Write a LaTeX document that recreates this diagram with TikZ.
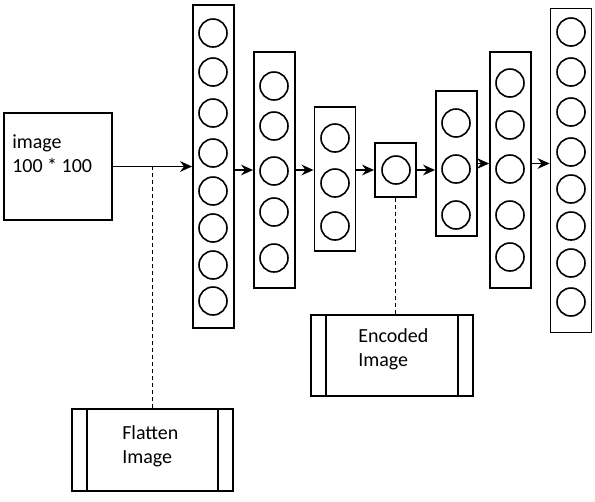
\documentclass[tikz,border=0pt]{standalone}
\usepackage{fontspec}
\setmainfont{Carlito}
\usetikzlibrary{arrows.meta, positioning}
\tikzset{
  layer/.style={rectangle,draw,line width=1.4pt,minimum width=30.75pt,inner sep=0pt},
  neuron/.style={circle,draw,line width=1.2pt,minimum size=21pt,inner sep=0pt},
  inbox/.style={rectangle,draw,line width=1.4pt,minimum width=81pt,minimum height=80.25pt,inner sep=0pt},
  procbox/.style={rectangle,draw,line width=1.4pt,minimum width=121pt,minimum height=61pt,inner sep=0pt},
  txt/.style={align=left,inner sep=0pt,font=\fontsize{15pt}{18pt}\selectfont},
  line/.style={-{Stealth[length=9pt,width=8pt,inset=3pt]},line width=1.3pt},
  link/.style={dash pattern=on 3pt off 2.25pt,line width=1.3pt}
}

\begin{document}
\begin{tikzpicture}[x=0.75pt,y=-0.75pt]
\useasboundingbox (0,0) rectangle (595,501);

% input image
\node[inbox] (img) at (58,166.5) {};
\node[txt,anchor=base west] (imgtext) at (12,172) {image\\100 * 100};

% layers of the autoencoder
\foreach \name/\x/\y/\h in {l1/213.5/166.5/242.25, l2/274.5/170/177, l3/335/179/108,
    bn/395.5/170/40.5, l5/456.5/163.5/108.75, l6/510.5/170/177, l7/571/170.5/243}
  \node[layer,minimum height=\h pt] (\name) at (\x,\y) {};

% neurons
\foreach \y [count=\i] in {33,72,113,153,191,228,265,301}
  \node[neuron] (a\i) at (213,\y) {};
\foreach \y [count=\i] in {86,126,171,212,258}
  \node[neuron] (b\i) at (274,\y) {};
\foreach \y [count=\i] in {138,183,226}
  \node[neuron] (c\i) at (335,\y) {};
\node[neuron] (d1) at (396,170) {};
\foreach \y [count=\i] in {123,169,215}
  \node[neuron] (e\i) at (456,\y) {};
\foreach \y [count=\i] in {83,125,169,215,257}
  \node[neuron] (f\i) at (510,\y) {};
\foreach \y [count=\i] in {32,72,112,152,189,226,263,302}
  \node[neuron] (g\i) at (571,\y) {};

% flatten and encoded boxes
\node[procbox] (flat) at (152.5,450) {};
\node[txt,anchor=base west] (flattext) at (122,463) {Flatten\\Image};
\node[procbox] (code) at (392,355.5) {};
\node[txt,anchor=base west] (codetext) at (358,366) {Encoded\\Image};
\foreach \b in {flat,code} {
  \draw[line width=1.4pt] ([xshift=12pt]\b.north west) -- ([xshift=12pt]\b.south west);
  \draw[line width=1.4pt] ([xshift=-12pt]\b.north east) -- ([xshift=-12pt]\b.south east);
}

% connections
\draw[link] (flat.north) -- (flat.north |- img.east);
\draw[link] (bn.south) -- (bn.south |- code.north);
\draw[line] (img) -- (l1);
\draw[line] (l1.east |- l2) -- (l2);
\draw[line] (l2) -- (l2 -| l3.west);
\draw[line] (l3.east |- bn) -- (bn);
\draw[line] (bn) -- (bn -| l5.west);
\draw[line] (l5) -- (l5 -| l6.west);
\draw[line] (l6.east |- l5) -- (l7.west |- l5);
\end{tikzpicture}
\end{document}
